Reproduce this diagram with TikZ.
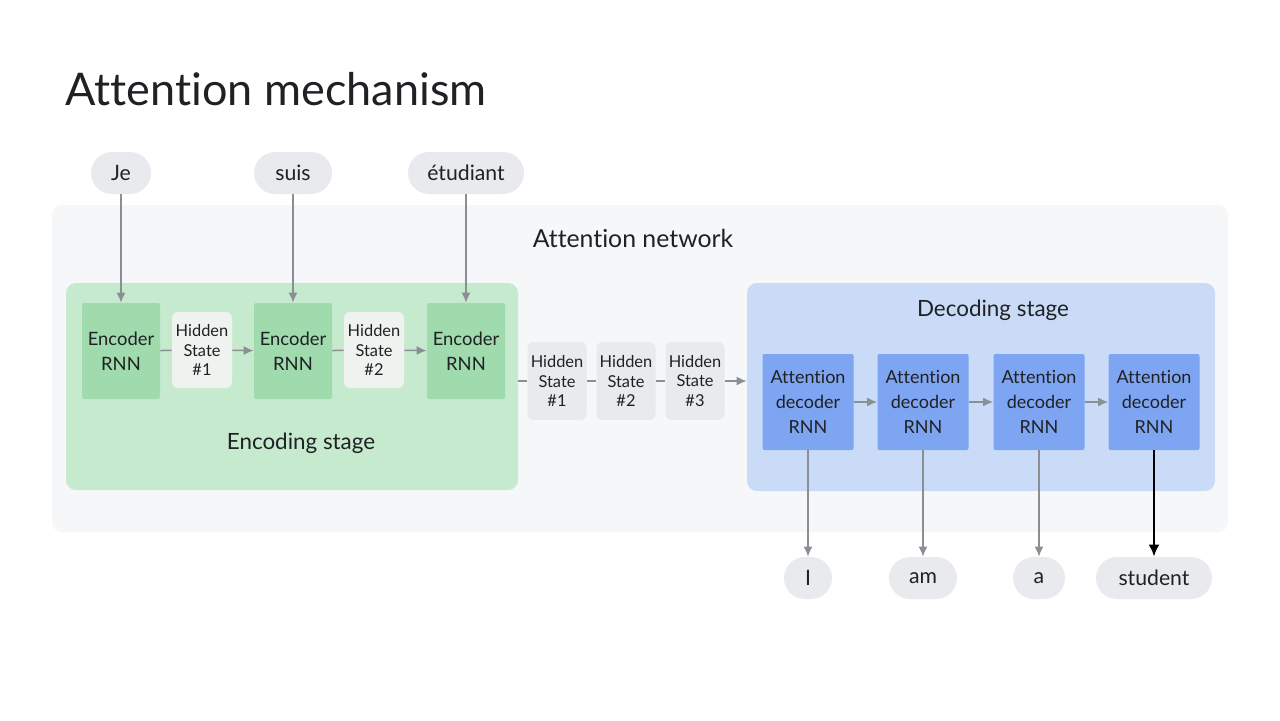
\documentclass[tikz,border=0pt]{standalone}
\usepackage{fontspec}
\setmainfont{Lato}[Ligatures={NoCommon}]
\usetikzlibrary{positioning,fit,arrows.meta}
\definecolor{ink}{HTML}{202124}
\definecolor{netgray}{HTML}{F6F7F9}
\definecolor{pillgray}{HTML}{E8EAED}
\definecolor{encpanel}{HTML}{C6EACE}
\definecolor{encrnn}{HTML}{9FDBAD}
\definecolor{hsenc}{HTML}{EEF3EF}
\definecolor{decpanel}{HTML}{C9DBF7}
\definecolor{decrnn}{HTML}{7DA5F1}
\definecolor{arrgray}{HTML}{8A8F94}

\begin{document}
\begin{tikzpicture}[x=0.5pt,y=-0.5pt,
    every node/.style={text=ink, align=center},
    panel/.style={inner sep=0pt, rounded corners=5pt},
    encbox/.style={fill=encrnn, minimum width=39pt, minimum height=48pt, inner sep=0pt,
        rounded corners=1pt, font=\fontsize{9.2}{12.5}\selectfont},
    hsbox/.style={minimum width=30pt, minimum height=38pt, inner sep=0pt,
        rounded corners=3pt, font=\fontsize{8.2}{9.8}\selectfont},
    decbox/.style={fill=decrnn, minimum width=45.5pt, minimum height=48pt, inner sep=0pt,
        rounded corners=1pt, font=\fontsize{9}{12.3}\selectfont},
    pill/.style={fill=pillgray, rounded corners=10.5pt, minimum height=21pt, inner xsep=8pt,
        font=\fontsize{10.6}{12}\selectfont},
    link/.style={draw=arrgray, line width=0.75pt},
    arr/.style={link, -{Latex[length=5pt,width=4.5pt]}}]
    \useasboundingbox[fill=white] (0,0) rectangle (1280,720);
    % title
    \node[anchor=base west, inner sep=0pt, font=\fontsize{22.5}{26}\selectfont] (title) at (65,105) {Attention mechanism};
    % panels
    \node[panel, fill=netgray, fit={(52,205) (1228,532)}] (net) {};
    \node[font=\fontsize{12.4}{14}\selectfont] (netlabel) at (633,238) {Attention network};
    \node[panel, fill=encpanel, fit={(66,283) (518,490)}] (enc) {};
    \node[panel, fill=decpanel, fit={(747,283) (1215,491)}] (dec) {};
    \node[font=\fontsize{11.2}{13}\selectfont] (enclabel) at (301,443) {Encoding stage};
    \node[font=\fontsize{11.2}{13}\selectfont] (declabel) at (993,310) {Decoding stage};
    % encoder
    \node[encbox] (enc1) at (121,351) {Encoder\\RNN};
    \node[encbox] (enc2) at (293,351) {Encoder\\RNN};
    \node[encbox] (enc3) at (466,351) {Encoder\\RNN};
    \node[hsbox, fill=hsenc] (hs1) at (202,350) {Hidden\\State\\\#1};
    \node[hsbox, fill=hsenc] (hs2) at (374,350) {Hidden\\State\\\#2};
    % hidden states passed on
    \node[hsbox, fill=pillgray, minimum width=29.5pt, minimum height=39pt] (mid1) at (557,381) {Hidden\\State\\\#1};
    \node[hsbox, fill=pillgray, minimum width=29.5pt, minimum height=39pt] (mid2) at (626,381) {Hidden\\State\\\#2};
    \node[hsbox, fill=pillgray, minimum width=29.5pt, minimum height=39pt] (mid3) at (695,381) {Hidden\\State\\\#3};
    % decoder
    \node[decbox] (dec1) at (808,402) {Attention\\decoder\\RNN};
    \node[decbox] (dec2) at (923,402) {Attention\\decoder\\RNN};
    \node[decbox] (dec3) at (1039,402) {Attention\\decoder\\RNN};
    \node[decbox] (dec4) at (1154,402) {Attention\\decoder\\RNN};
    % words
    \node[pill, minimum width=30pt] (je) at (121,173) {Je};
    \node[pill, minimum width=39pt] (suis) at (293,173) {suis};
    \node[pill, minimum width=58pt] (etud) at (466,173) {étudiant};
    \node[pill, minimum width=24pt] (w1) at (808,578) {I};
    \node[pill, minimum width=34pt] (w2) at (923,578) {am};
    \node[pill, minimum width=26pt] (w3) at (1039,578) {a};
    \node[pill, minimum width=58pt] (w4) at (1154,578) {student};
    % arrows
    \draw[arr] (je) -- (enc1);
    \draw[arr] (suis) -- (enc2);
    \draw[arr] (etud) -- (enc3);
    \draw[link] (enc1) -- (hs1);
    \draw[arr] (hs1) -- (enc2);
    \draw[link] (enc2) -- (hs2);
    \draw[arr] (hs2) -- (enc3);
    \draw[link] (enc.east |- mid1) -- (mid1);
    \draw[link] (mid1) -- (mid2);
    \draw[link] (mid2) -- (mid3);
    \draw[arr] (mid3) -- (dec.west |- mid3);
    \draw[arr] (dec1) -- (dec2);
    \draw[arr] (dec2) -- (dec3);
    \draw[arr] (dec3) -- (dec4);
    \draw[arr] (dec1) -- (w1);
    \draw[arr] (dec2) -- (w2);
    \draw[arr] (dec3) -- (w3);
    \draw[-{Latex[length=6pt,width=5.5pt]}, line width=1.3pt, black] (dec4) -- (w4);
\end{tikzpicture}
\end{document}
